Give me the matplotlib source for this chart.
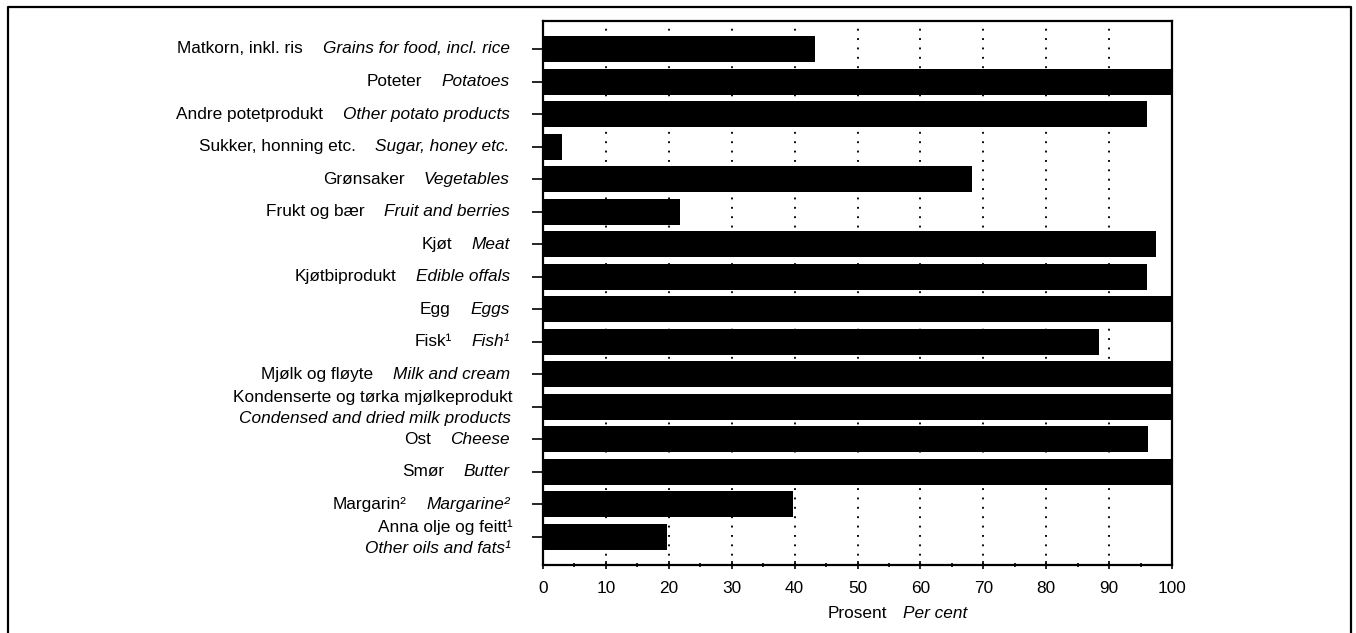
import matplotlib
matplotlib.use("Agg")
import matplotlib.pyplot as plt
from matplotlib.lines import Line2D

plt.rcParams['font.family'] = ['Liberation Sans', 'DejaVu Sans']

# kategorier, norsk og engelsk
norsk = ["Matkorn, inkl. ris", "Poteter", "Andre potetprodukt", "Sukker, honning etc.",
         "Grønsaker", "Frukt og bær", "Kjøt", "Kjøtbiprodukt", "Egg", "Fisk¹",
         "Mjølk og fløyte", "Kondenserte og tørka mjølkeprodukt", "Ost", "Smør",
         "Margarin²", "Anna olje og feitt¹"]
english = ["Grains for food, incl. rice", "Potatoes", "Other potato products",
           "Sugar, honey etc.", "Vegetables", "Fruit and berries", "Meat", "Edible offals",
           "Eggs", "Fish¹", "Milk and cream", "Condensed and dried milk products", "Cheese",
           "Butter", "Margarine²", "Other oils and fats¹"]
prosent = [43.2, 100, 96.0, 3.0, 68.2, 21.8, 97.5, 96.0, 100, 88.4, 100, 100, 96.2, 100,
           39.7, 19.7]
x_ticks = list(range(0, 101, 10))
two_line = {"Kondenserte og tørka mjølkeprodukt", "Anna olje og feitt¹"}

FS = 12.4

fig = plt.figure(figsize=(13.56, 6.33), dpi=100)
ax = fig.add_axes([543 / 1356, 1 - 565 / 633, (1172 - 543) / 1356, (565 - 21) / 633])

pos = list(range(len(prosent)))
ax.barh(pos, prosent, height=0.8, color='black', zorder=2)
ax.set_xlim(0, 100)
ax.set_ylim(len(prosent) - 1 + 0.86, -0.86)

ax.set_axisbelow(True)
ax.grid(axis='x', color='black', linestyle=(0, (1, 4.0)), linewidth=1.35)
ax.set_xticks(x_ticks)
ax.set_xticks(range(5, 100, 10), minor=True)
ax.set_xticklabels([str(t) for t in x_ticks], fontsize=12.4)
ax.tick_params(axis='x', which='major', direction='inout', length=6, width=1.2, pad=8.5)
ax.tick_params(axis='x', which='minor', direction='inout', length=3, width=1.2)
ax.set_yticks(pos)
ax.set_yticklabels([])
ax.tick_params(axis='y', direction='out', length=8, width=1.2)
for s in ax.spines.values():
    s.set_linewidth(1.6)

# kategorinavn: norsk (rett) + engelsk (kursiv)
lab_tr = ax.get_yaxis_transform()
for i, (no, en) in enumerate(zip(norsk, english)):
    if no in two_line:
        ax.annotate(no, xy=(0, i), xycoords=lab_tr, xytext=(-22, 6.8),
                    textcoords='offset points', ha='right', va='center', fontsize=FS)
        ax.annotate(en, xy=(0, i), xycoords=lab_tr, xytext=(-23, -8.3),
                    textcoords='offset points', ha='right', va='center', fontsize=FS,
                    style='italic')
    else:
        e = ax.annotate(en, xy=(0, i), xycoords=lab_tr, xytext=(-24, 0),
                        textcoords='offset points', ha='right', va='center', fontsize=FS,
                        style='italic')
        ax.annotate(no, xy=(0, 0.5), xycoords=e, xytext=(-14, 0),
                    textcoords='offset points', ha='right', va='center', fontsize=FS)

# aksetittel
ax.annotate("Prosent", xy=(0.5, 0), xycoords='axes fraction', xytext=(21, -35),
            textcoords='offset points', ha='right', va='center', fontsize=FS)
ax.annotate("Per cent", xy=(0.5, 0), xycoords='axes fraction', xytext=(33, -35),
            textcoords='offset points', ha='left', va='center', fontsize=FS, style='italic')

# ramme rundt figuren
fx0, fx1, fy1 = 8 / 1356, 1351 / 1356, 1 - 7 / 633
fig.add_artist(Line2D([fx0, fx0, fx1, fx1], [0, fy1, fy1, 0], transform=fig.transFigure,
                      color='black', linewidth=1.6))

plt.savefig('out.png', dpi=100)
